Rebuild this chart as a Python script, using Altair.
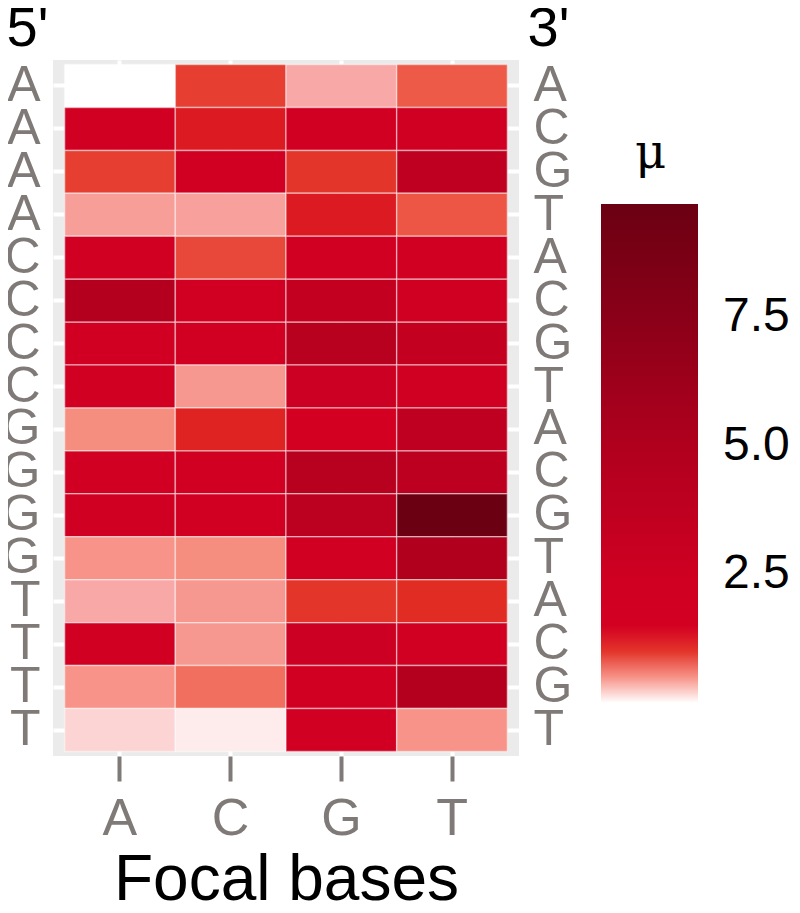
import altair as alt
import pandas as pd

# ---- data ----
five_prime = ["A"] * 4 + ["C"] * 4 + ["G"] * 4 + ["T"] * 4
three_prime = ["A", "C", "G", "T"] * 4
focal_bases = ["A", "C", "G", "T"]

mu_A = [0.0, 2.0, 0.95, 0.40, 2.0, 4.7, 2.0, 2.0, 0.55, 2.0, 2.2, 0.5, 0.3, 2.0, 0.5, 0.15]
mu_C = [0.95, 1.15, 2.0, 0.38, 0.9, 2.0, 2.0, 0.45, 1.1, 2.0, 2.0, 0.55, 0.45, 0.45, 0.7, 0.07]
mu_G = [0.3, 2.0, 1.0, 1.15, 2.0, 3.3, 4.3, 2.7, 1.5, 4.3, 4.0, 2.0, 1.0, 2.7, 2.0, 2.0]
mu_T = [0.8, 2.1, 3.7, 0.82, 2.0, 2.3, 3.3, 2.1, 3.7, 3.9, 9.7, 5.0, 1.05, 2.0, 4.7, 0.5]

legend_ticks = [2.5, 5.0, 7.5]

color_domain = [0, 0.3, 0.55, 0.8, 1.05, 1.3, 2.5, 5.0, 7.5, 9.7]
color_range = ["#ffffff", "#f9a8a8", "#f68e80", "#ee5a48", "#e02c22",
               "#d40022", "#ce0022", "#b0001e", "#8a0018", "#6b0012"]

# ---- build table ----
rows = []
keys = [f + t for f, t in zip(five_prime, three_prime)]
for base, col in zip(focal_bases, [mu_A, mu_C, mu_G, mu_T]):
    for k, v in zip(keys, col):
        rows.append({"key": k, "focal": base, "mu": v})
df = pd.DataFrame(rows)

GREY = "#7f7a77"
SANS = "Liberation Sans"

x_enc = alt.X(
    "focal:N",
    sort=focal_bases,
    scale=alt.Scale(paddingInner=0, paddingOuter=0.105),
    axis=alt.Axis(
        title="Focal bases",
        titleFontSize=64,
        titleFont=SANS,
        titleFontWeight="normal",
        titleColor="black",
        titlePadding=4,
        labelFontSize=52,
        labelFont=SANS,
        labelColor=GREY,
        labelAngle=0,
        labelPadding=12,
        ticks=True,
        tickColor=GREY,
        tickWidth=4,
        tickSize=25,
        domain=False,
        grid=True,
        gridColor="white",
        gridWidth=4,
        bandPosition=0.5,
        zindex=0,
    ),
)

y_scale = alt.Scale(paddingInner=0, paddingOuter=0.105)

base = alt.Chart(df)

tiles = base.mark_rect(stroke="white", strokeWidth=1.5, strokeOpacity=0.45).encode(
    x=x_enc,
    y=alt.Y(
        "key:N",
        sort=keys,
        scale=y_scale,
        axis=alt.Axis(
            orient="left",
            title="5'",
            titleAngle=0,
            titleAlign="left",
            titleBaseline="top",
            titleX=-47,
            titleY=-59,
            titleFontSize=56,
            titleFont=SANS,
            titleFontWeight="normal",
            titleColor="black",
            labelExpr="slice(datum.value, 0, 1)",
            labelFontSize=50,
            labelFont=SANS,
            labelColor=GREY,
            labelPadding=13,
            ticks=False,
            tickSize=0,
            domain=False,
            grid=True,
            gridColor="white",
            gridWidth=4,
            bandPosition=0.5,
            zindex=0,
        ),
    ),
    color=alt.Color(
        "mu:Q",
        scale=alt.Scale(domain=color_domain, range=color_range, interpolate="rgb"),
        legend=alt.Legend(
            title=None,
            orient="none",
            legendX=548,
            legendY=144,
            direction="vertical",
            gradientLength=499,
            gradientThickness=97,
            gradientStrokeWidth=0,
            values=legend_ticks,
            format=".1f",
            labelFontSize=48,
            labelFont=SANS,
            labelColor="black",
            labelOffset=25,
            padding=0,
        ),
    ),
)

right_axis = base.mark_rect(opacity=0).encode(
    x=alt.X("focal:N", sort=focal_bases),
    y=alt.Y(
        "key:N",
        sort=keys,
        scale=y_scale,
        axis=alt.Axis(
            orient="right",
            title="3'",
            titleAngle=0,
            titleAlign="left",
            titleBaseline="top",
            titleX=8,
            titleY=-59,
            titleFontSize=56,
            titleFont=SANS,
            titleFontWeight="normal",
            titleColor="black",
            labelExpr="slice(datum.value, 1, 2)",
            labelFontSize=50,
            labelFont=SANS,
            labelColor=GREY,
            labelPadding=14,
            ticks=False,
            tickSize=0,
            domain=False,
            grid=False,
            bandPosition=0.5,
            zindex=0,
        ),
    ),
)

chart = (
    alt.layer(tiles, right_axis)
    .resolve_axis(y="independent")
    .properties(
        width=466,
        height=696,
        autosize=alt.AutoSizeParams(type="none"),
        padding={"left": 45, "top": 52, "right": 273, "bottom": 149},
        title=alt.TitleParams(
            text="μ",
            anchor="start",
            frame="group",
            orient="top",
            dx=582,
            dy=178,
            fontSize=48,
            font="DejaVu Serif",
            fontWeight="normal",
            color="black",
            offset=0,
        ),
    )
    .configure_view(fill="#ebebeb", stroke=None)
)

chart.save("out.html", embed_options={"renderer": "svg", "actions": False})
